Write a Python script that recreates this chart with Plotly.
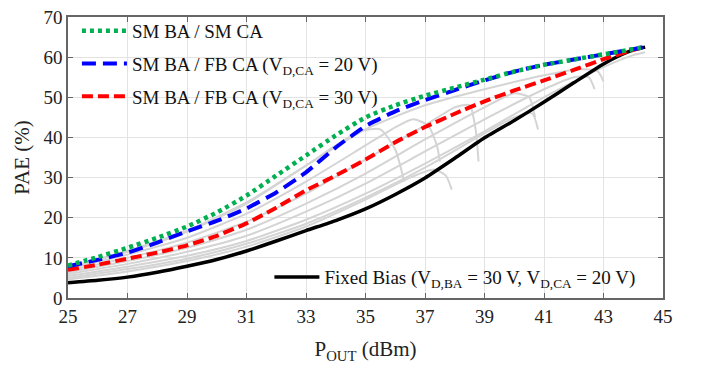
import plotly.graph_objects as go

# ---------------- data ----------------
P_GREEN = [25, 26, 27, 28, 29, 30, 31, 32, 33, 34, 35, 36, 37, 38, 39, 40, 41, 42, 43, 44, 44.4]
PAE_GREEN = [8.1, 10.2, 12.5, 15.0, 17.8, 21.3, 25.5, 30.5, 35.5, 40.5, 45.0, 48.0, 50.4, 52.4, 54.4, 56.4, 58.1, 59.4, 60.7, 62.0, 62.6]

P_BLUE = [25, 26, 27, 28, 29, 30, 31, 32, 33, 34, 35, 36, 37, 38, 39, 40, 41, 42, 43, 44, 44.4]
PAE_BLUE = [7.9, 9.5, 11.3, 13.8, 16.6, 19.2, 22.3, 26.3, 31.3, 37.5, 42.8, 46.5, 49.3, 51.8, 54.2, 56.4, 58.1, 59.4, 60.7, 62.0, 62.6]

P_RED = [25, 26, 27, 28, 29, 30, 31, 32, 33, 34, 35, 36, 37, 38, 39, 40, 41, 42, 43, 44, 44.4]
PAE_RED = [7.0, 8.3, 9.8, 11.3, 13.1, 15.5, 18.6, 22.5, 26.8, 30.5, 34.5, 38.8, 42.6, 45.9, 49.0, 51.7, 54.2, 56.8, 59.5, 61.8, 62.6]

P_BLACK = [25, 26, 27, 28, 29, 30, 31, 32, 33, 34, 35, 36, 37, 38, 39, 40, 41, 42, 43, 43.6, 44, 44.4]
PAE_BLACK = [3.8, 4.4, 5.2, 6.4, 7.9, 9.6, 11.7, 14.2, 16.8, 19.3, 22.2, 25.8, 29.9, 34.8, 39.9, 44.2, 48.8, 53.6, 58.3, 60.6, 61.8, 62.5]

# gray bias-sweep curves
GRAY_P = [
    [25, 27, 29, 31, 33, 34, 34.8, 35.5, 36.0, 36.3],
    [25, 27, 29, 31, 33, 35, 36, 36.6, 37.1, 37.4, 37.5],
    [25, 27, 29, 31, 33, 35, 37, 38, 38.5, 38.7, 38.8],
    [25, 27, 29, 31, 33, 35, 37, 39, 40, 40.5, 40.7],
    [25, 27, 29, 31, 33, 35, 37, 39, 41, 42, 42.5, 42.7],
    [25, 27, 29, 31, 33, 35, 37, 39, 41, 43, 44, 44.4],
    [25, 27, 29, 31, 33, 35, 37, 39, 40, 40.6, 40.8],
    [25, 27, 29, 31, 33, 35, 36.5, 37.3, 37.7, 37.9],
    [25, 27, 29, 31, 33, 35, 37, 39, 41, 42.2, 42.8, 43.0],
]
GRAY_PAE = [
    [7.5, 11.5, 16.5, 23.5, 33.0, 38.0, 41.5, 42.0, 37.0, 29.0],
    [7.2, 10.8, 15.0, 21.0, 29.0, 38.0, 42.5, 44.5, 43.0, 38.0, 34.0],
    [6.8, 10.0, 13.8, 19.0, 26.0, 34.5, 43.0, 47.5, 48.0, 42.0, 34.0],
    [6.4, 9.2, 12.5, 17.0, 23.5, 31.0, 39.5, 47.5, 51.0, 50.0, 45.0],
    [6.0, 8.5, 11.5, 15.5, 21.5, 28.5, 36.5, 44.5, 52.0, 55.0, 55.0, 52.0],
    [5.5, 7.8, 10.5, 14.2, 19.5, 26.0, 33.5, 41.5, 50.0, 57.5, 60.5, 61.2],
    [5.0, 7.2, 9.8, 13.5, 18.5, 25.0, 32.5, 41.0, 45.0, 46.0, 42.0],
    [4.6, 6.6, 9.2, 12.8, 17.8, 24.5, 30.0, 32.0, 30.5, 27.0],
    [7.6, 11.8, 16.8, 23.8, 33.0, 42.0, 48.0, 52.0, 55.5, 57.0, 56.5, 54.0],
]

X_TICKS = [25, 27, 29, 31, 33, 35, 37, 39, 41, 43, 45]
Y_TICKS = [0, 10, 20, 30, 40, 50, 60, 70]

NAME_GREEN = "SM BA / SM CA"
NAME_BLUE = "SM BA / FB CA (V<sub>D,CA</sub> = 20 V)"
NAME_RED = "SM BA / FB CA (V<sub>D,CA</sub> = 30 V)"
NAME_BLACK = "Fixed Bias (V<sub>D,BA</sub> = 30 V, V<sub>D,CA</sub> = 20 V)"

FONT = "Liberation Serif, Times New Roman, serif"

fig = go.Figure()

for gp, gy in zip(GRAY_P, GRAY_PAE):
    fig.add_trace(go.Scatter(x=gp, y=gy, mode="lines", showlegend=False,
                             line=dict(color="#d4d4d4", width=2, shape="spline", smoothing=0.6),
                             hoverinfo="skip"))

fig.add_trace(go.Scatter(x=P_BLACK, y=PAE_BLACK, mode="lines", name=NAME_BLACK,
                         line=dict(color="black", width=3.5, shape="spline", smoothing=0.5),
                         legend="legend2"))
fig.add_trace(go.Scatter(x=P_RED, y=PAE_RED, mode="lines", name=NAME_RED,
                         line=dict(color="#ff0000", width=4, dash="11px,5px", shape="spline", smoothing=0.5),
                         legend="legend", legendrank=3, legendgroup="r"))
fig.add_trace(go.Scatter(x=P_BLUE, y=PAE_BLUE, mode="lines", name=NAME_BLUE,
                         line=dict(color="#0000ff", width=4, dash="14px,7px", shape="spline", smoothing=0.5),
                         legend="legend", legendrank=2, legendgroup="b"))
fig.add_trace(go.Scatter(x=P_GREEN, y=PAE_GREEN, mode="lines", name=NAME_GREEN,
                         line=dict(color="#00b050", width=4.5, dash="4px,4px", shape="spline", smoothing=0.5),
                         legend="legend", legendrank=1, legendgroup="g"))

axis_common = dict(
    showline=True, linecolor="#666666", linewidth=1.5, mirror="ticks",
    ticks="inside", ticklen=5, tickcolor="#666666", tickwidth=1.2,
    showgrid=True, gridcolor="#e3e3e3", gridwidth=1,
    zeroline=False, automargin=False,
    tickfont=dict(family=FONT, size=19, color="#222222"),
)

fig.update_xaxes(range=[25, 45], tickvals=X_TICKS, ticktext=[str(v) for v in X_TICKS],
                 title=dict(text="P<sub>OUT</sub> (dBm)", font=dict(family=FONT, size=21, color="#222222"),
                            standoff=16),
                 **axis_common)
fig.update_yaxes(range=[0, 70], tickvals=Y_TICKS, ticktext=[str(v) for v in Y_TICKS],
                 title=dict(text="PAE (%)", font=dict(family=FONT, size=21, color="#222222"), standoff=8),
                 **axis_common)

fig.update_layout(
    width=706, height=366,
    margin=dict(l=68, r=43, t=13, b=68),
    paper_bgcolor="white", plot_bgcolor="white",
    font=dict(family=FONT, size=19, color="#111111"),
    legend=dict(x=0.015, y=1.018, xanchor="left", yanchor="top", bgcolor="rgba(0,0,0,0)",
                borderwidth=0, tracegroupgap=5, itemwidth=45,
                font=dict(family=FONT, size=19, color="#111111")),
    legend2=dict(x=0.3385, y=0.007, xanchor="left", yanchor="bottom", bgcolor="rgba(0,0,0,0)",
                 borderwidth=0, itemwidth=45,
                 font=dict(family=FONT, size=19, color="#111111")),
    showlegend=True,
)

fig.write_html("out.html")
